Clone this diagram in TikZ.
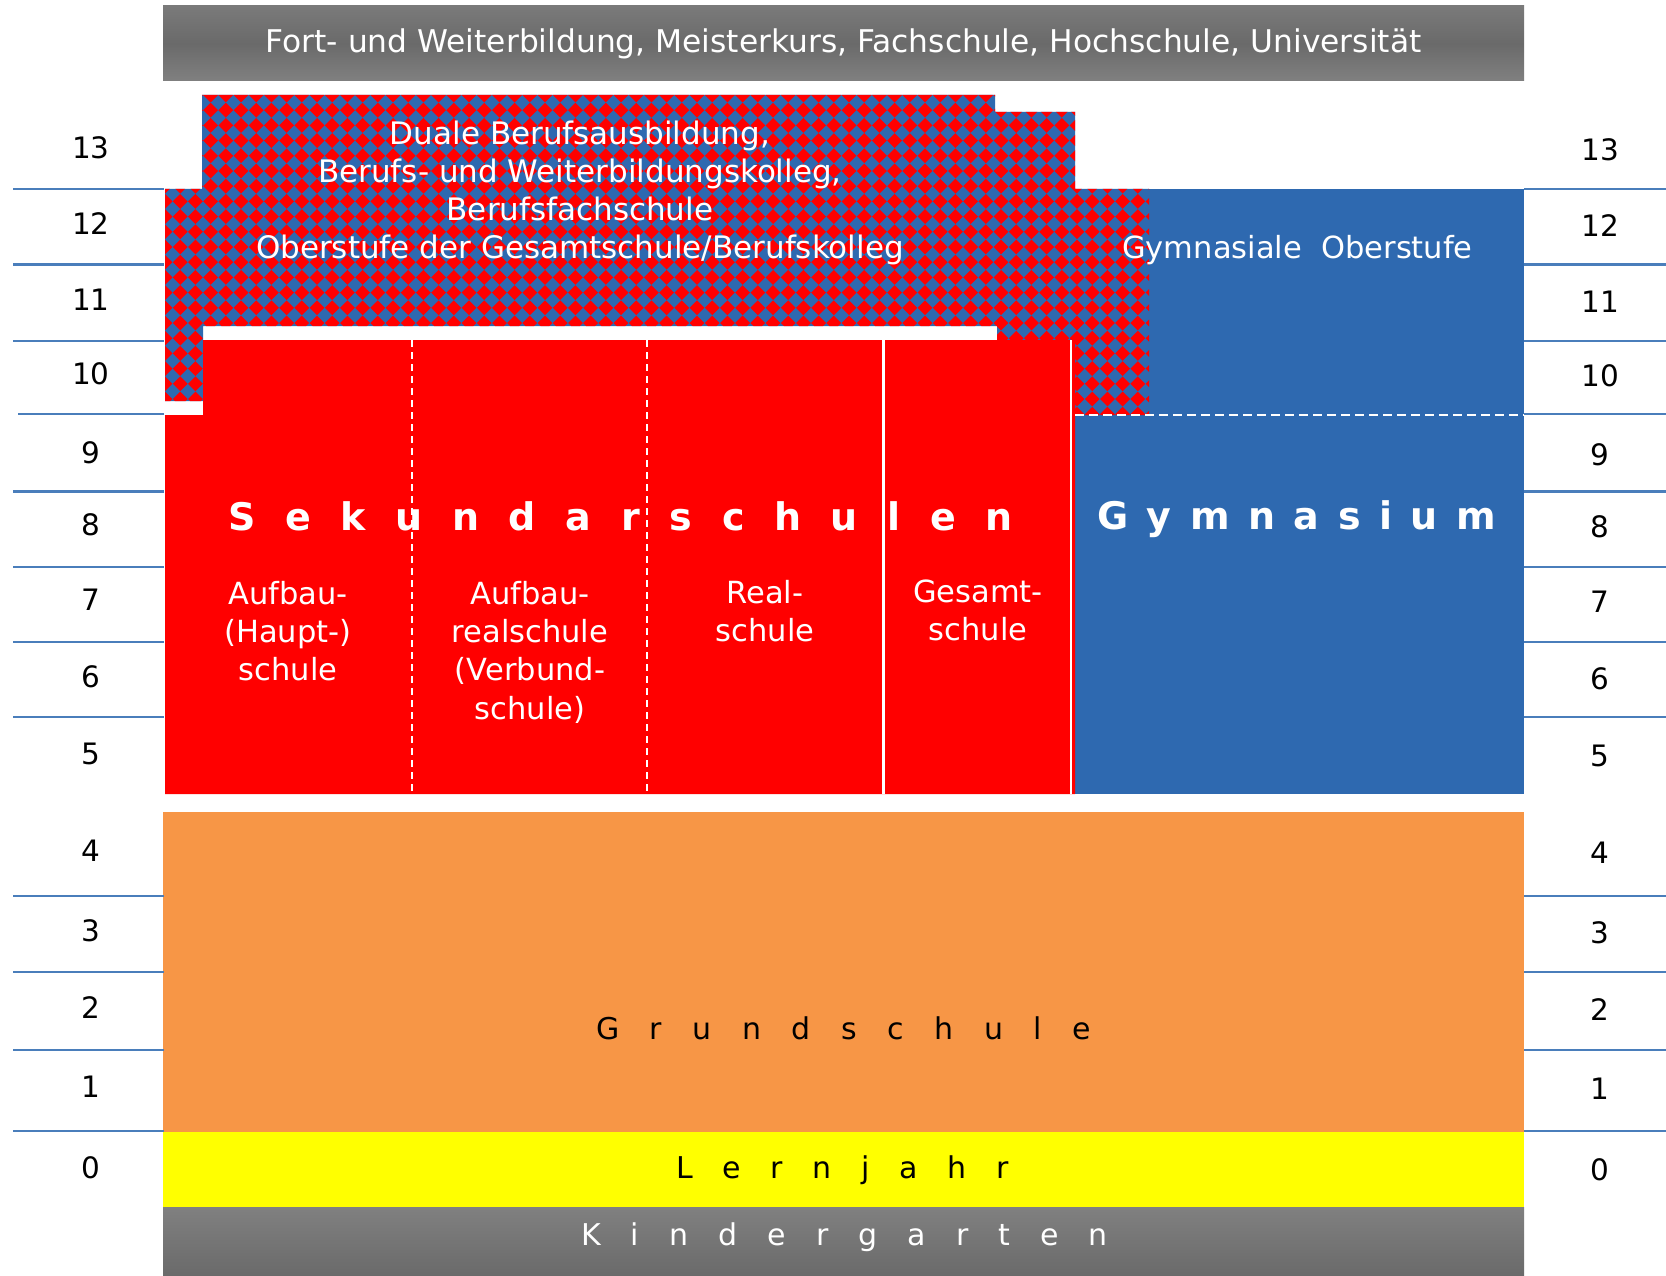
\documentclass[tikz,border=0pt]{standalone}
\usepackage{fontspec}
\setmainfont{DejaVu Sans}
\definecolor{bl}{RGB}{46,105,176}
\definecolor{rd}{RGB}{255,0,0}
\definecolor{og}{RGB}{247,150,70}
\definecolor{yl}{RGB}{255,255,0}
\definecolor{ln}{RGB}{74,126,187}
\definecolor{gA}{RGB}{122,122,122}
\definecolor{gB}{RGB}{106,106,106}
\definecolor{gC}{RGB}{128,128,128}
\newcommand\fsz[1]{\fontsize{#1}{#1}\selectfont}
\tikzset{
  txt/.style={inner sep=0pt, outer sep=0pt, anchor=base},
  wtxt/.style={txt, text=white},
  num/.style={txt, text=black, font=\fsz{29.5}},
  scl/.style={draw=ln, line width=2.2pt},
  sepdash/.style={draw=white, line width=2pt, dash pattern=on 7pt off 5pt},
}
\begin{document}
\begin{tikzpicture}[x=1pt,y=-1pt]
\useasboundingbox (0,0) rectangle (1666,1276);
\fill[white] (0,0) rectangle (1666,1276);

% header
\shade[top color=gA, bottom color=gC, middle color=gB] (163,6) rectangle (1524,81);
\node[wtxt, font=\fsz{31.3}] (hdr) at (843.5,52.7) {Fort- und Weiterbildung, Meisterkurs, Fachschule, Hochschule, Universität};

% Gymnasium blue
\fill[bl] (1075,189) rectangle (1524,794);

% patterned region
\begin{scope}
\clip (165,189) -- (202,189) -- (202,95) -- (995,95) -- (995,112) -- (1075,112) -- (1075,189) -- (1149,189) -- (1149,415) -- (1075,415) -- (1075,340) -- (997,340) -- (997,326) -- (203,326) -- (203,401) -- (165,401) -- cycle;
\fill[bl] (160,90) rectangle (1155,420);
\foreach \i in {0,...,66} {
  \foreach \j in {0,...,22} {
    \fill[rd] ({165+\i*15.2},{95+\j*15.2}) +(-7.4,0) -- +(0,-7.4) -- +(7.4,0) -- +(0,7.4) -- cycle;
  }
}
\end{scope}

% red block
\fill[rd] (165,415) -- (203,415) -- (203,340) -- (1075,340) -- (1075,794) -- (165,794) -- cycle;
\draw[sepdash] (412,340) -- (412,794);
\draw[sepdash] (647,340) -- (647,794);
\draw[draw=white, line width=3pt] (883,340) -- (883,794);
\draw[draw=white, line width=2.5pt] (1071,340) -- (1071,794);
\draw[draw=white, line width=2pt, dash pattern=on 9pt off 5pt] (1075,415) -- (1524,415);

% lower blocks
\fill[og] (163,812) rectangle (1524,1132);
\fill[yl] (163,1132) rectangle (1524,1207);
\shade[top color=gC, bottom color=gB] (163,1207) rectangle (1524,1276);

% scale lines
\foreach \y in {189,264.5,341,491.5,567,642,717,896,972,1050,1131} {
  \draw[scl] (13,\y) -- (164,\y);
  \draw[scl] (1524,\y) -- (1666,\y);
}
\draw[scl] (18,414) -- (164,414);
\draw[scl] (1524,414) -- (1666,414);

% numbers
\foreach \n/\y in {13/158.5,12/234.5,11/310.5,10/384.5,9/463.5,8/535.5,7/610.5,6/687.5,5/764.5,4/861.5,3/941.5,2/1018.5,1/1097.5,0/1178.5} {
  \node[num] (l\n) at (91,\y) {\n};
  \node[num] (r\n) at (1600,\y+2) {\n};
}

% pattern texts
\node[wtxt, font=\fsz{31}] (p1) at (580,145) {Duale Berufsausbildung,};
\node[wtxt, font=\fsz{31}] (p2) at (580,183) {Berufs- und Weiterbildungskolleg,};
\node[wtxt, font=\fsz{31}] (p3) at (580,221) {Berufsfachschule};
\node[wtxt, font=\fsz{31}] (p4) at (580,259) {Oberstufe der Gesamtschule/Berufskolleg};
\node[wtxt, font=\fsz{30.5}] (go) at (1297.5,259) {Gymnasiale\ \ Oberstufe};

% big spaced titles
\node[wtxt, anchor=base west, font=\bfseries\fsz{38}] (sek) at (228,530) {\makebox[785pt][s]{S e k u n d a r s c h u l e n}};
\node[wtxt, anchor=base west, font=\bfseries\fsz{38}] (gym) at (1097,529) {\makebox[399pt][s]{G y m n a s i u m}};

% column texts
\node[wtxt, font=\fsz{30.5}] (c1a) at (288,604) {Aufbau-};
\node[wtxt, font=\fsz{30.5}] (c1b) at (288,642) {(Haupt-)};
\node[wtxt, font=\fsz{30.5}] (c1c) at (288,680) {schule};
\node[wtxt, font=\fsz{30.5}] (c2a) at (530,604) {Aufbau-};
\node[wtxt, font=\fsz{30.5}] (c2b) at (530,642) {realschule};
\node[wtxt, font=\fsz{30.5}] (c2c) at (530,680) {(Verbund-};
\node[wtxt, font=\fsz{30.5}] (c2d) at (530,719) {schule)};
\node[wtxt, font=\fsz{30.5}] (c3a) at (765,603) {Real-};
\node[wtxt, font=\fsz{30.5}] (c3b) at (765,641) {schule};
\node[wtxt, font=\fsz{30.5}] (c4a) at (978,602) {Gesamt-};
\node[wtxt, font=\fsz{30.5}] (c4b) at (978,640) {schule};

% bottom spaced texts
\node[txt, anchor=base west, text=black, font=\fsz{30}] (gs) at (596,1039) {\makebox[495pt][s]{G r u n d s c h u l e}};
\node[txt, anchor=base west, text=black, font=\fsz{30}] (lj) at (676,1178) {\makebox[333pt][s]{L e r n j a h r}};
\node[wtxt, anchor=base west, font=\fsz{30}] (kg) at (581,1245) {\makebox[527pt][s]{K i n d e r g a r t e n}};
\end{tikzpicture}
\end{document}
